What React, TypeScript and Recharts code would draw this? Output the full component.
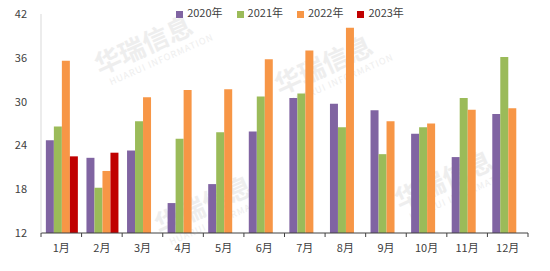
import React from "react";
import {
  BarChart,
  Bar,
  XAxis,
  YAxis,
  Legend,
} from "recharts";

const months = ["1月", "2月", "3月", "4月", "5月", "6月", "7月", "8月", "9月", "10月", "11月", "12月"];
const y2020 = [24.7, 22.3, 23.3, 16.1, 18.7, 25.9, 30.5, 29.7, 28.8, 25.6, 22.4, 28.3];
const y2021 = [26.6, 18.2, 27.3, 24.9, 25.8, 30.7, 31.1, 26.5, 22.8, 26.5, 30.5, 36.1];
const y2022 = [35.6, 20.5, 30.6, 31.6, 31.7, 35.8, 37.0, 40.1, 27.3, 27.0, 28.9, 29.1];
const y2023 = [22.5, 23.0, null, null, null, null, null, null, null, null, null, null];
const yTicks = [12, 18, 24, 30, 36, 42];

const data = months.map((m, i) => ({
  month: m,
  "2020年": y2020[i],
  "2021年": y2021[i],
  "2022年": y2022[i],
  "2023年": y2023[i],
}));

const FONT = "'Noto Sans CJK SC', 'Noto Sans', sans-serif";
const TEXT = "#404040";

function MonthTick(props: any) {
  const { x, y, payload, index } = props;
  const half = payload && payload.offset ? payload.offset : 20.3;
  return (
    <g>
      <line x1={x - half} y1={y} x2={x - half} y2={y + 4} stroke="#404040" />
      {index === months.length - 1 && (
        <line x1={x + half} y1={y} x2={x + half} y2={y + 4} stroke="#404040" />
      )}
      <text
        x={x}
        y={y + 19}
        textAnchor="middle"
        fill={TEXT}
        fontSize={11}
        fontFamily={FONT}
      >
        {payload.value}
      </text>
    </g>
  );
}

function Watermark({ x, y }: { x: number; y: number }) {
  return (
    <g transform={`translate(${x},${y}) rotate(-24)`} fill="#eeeeee">
      <text x={0} y={0} fontSize={26} fontWeight={700} fontFamily={FONT}>
        华瑞信息
      </text>
      <text x={6} y={14} fontSize={9} fontFamily={FONT} letterSpacing={1}>
        HUARUI INFORMATION
      </text>
    </g>
  );
}

export default function App() {
  return (
    <div style={{ position: "absolute", left: 0, top: 0, width: 550, height: 271, background: "#fff" }}>
      <svg width={550} height={271} style={{ position: "absolute", left: 0, top: 0 }}>
        <Watermark x={100} y={75} />
        <Watermark x={280} y={95} />
        <Watermark x={160} y={235} />
        <Watermark x={400} y={210} />
      </svg>
      <div style={{ position: "absolute", left: 0, top: 0 }}>
        <BarChart
          width={550}
          height={271}
          data={data}
          margin={{ top: 14, right: 22, bottom: 8, left: 0 }}
          barCategoryGap="12%"
          barGap={0}
        >
          <XAxis
            dataKey="month"
            axisLine={{ stroke: "#404040" }}
            tickLine={false}
            tickSize={0}
            tickMargin={0}
            height={30}
            interval={0}
            tick={<MonthTick />}
          />
          <YAxis
            domain={[12, 42]}
            ticks={yTicks}
            width={41}
            axisLine={{ stroke: "#d9d9d9" }}
            tickLine={false}
            tickSize={0}
            tickMargin={14}
            tick={{ fill: TEXT, fontSize: 11, fontFamily: FONT }}
            allowDataOverflow
          />
          <Legend
            verticalAlign="middle"
            align="center"
            layout="horizontal"
            iconType="square"
            iconSize={7}
            wrapperStyle={{ top: 4, left: 172, width: 250, fontSize: 11, fontFamily: FONT, textAlign: "left" }}
            formatter={(v: string) => (
              <span style={{ color: TEXT, marginRight: 4 }}>{v}</span>
            )}
          />
          <Bar dataKey="2020年" fill="#8064A2" isAnimationActive={false} />
          <Bar dataKey="2021年" fill="#9BBB59" isAnimationActive={false} />
          <Bar dataKey="2022年" fill="#F79646" isAnimationActive={false} />
          <Bar dataKey="2023年" fill="#C00000" isAnimationActive={false} />
        </BarChart>
      </div>
    </div>
  );
}
